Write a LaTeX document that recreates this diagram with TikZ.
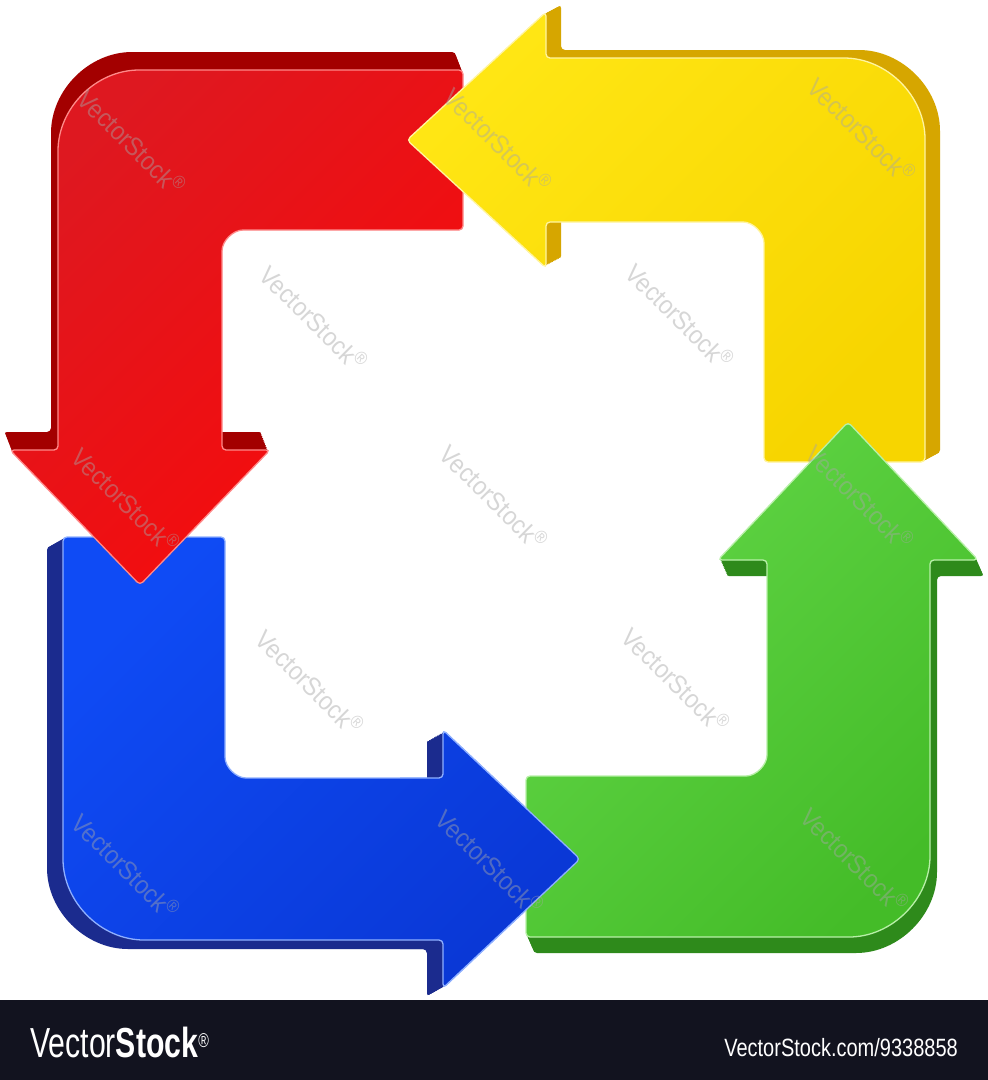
\documentclass[tikz,border=0pt]{standalone}
\usepackage{fontspec}
\setmainfont{Liberation Sans}
\newfontfamily\wmfont{Liberation Sans}[FakeStretch=0.9]
\newfontfamily\barfont{Liberation Sans}[FakeStretch=0.72]
\newfontfamily\urlfont{Liberation Sans}[FakeStretch=0.8]

\definecolor{redT}{HTML}{DE1820}
\definecolor{redB}{HTML}{F80A0A}
\definecolor{redS}{HTML}{A30000}
\definecolor{redE}{HTML}{FF8A8A}
\definecolor{yelT}{HTML}{FFE614}
\definecolor{yelB}{HTML}{F7D500}
\definecolor{yelS}{HTML}{D6A600}
\definecolor{yelE}{HTML}{FFF4A0}
\definecolor{grnT}{HTML}{62D647}
\definecolor{grnB}{HTML}{44BC28}
\definecolor{grnS}{HTML}{2E8A1B}
\definecolor{grnE}{HTML}{B8F0A8}
\definecolor{bluT}{HTML}{0F4BF5}
\definecolor{bluB}{HTML}{0A38D6}
\definecolor{bluS}{HTML}{1B2B8E}
\definecolor{bluE}{HTML}{8FB0FF}
\definecolor{barC}{HTML}{12131F}

\newcommand\rshape{(300,70) -- (463,70) -- (463,230) -- (247,230) .. controls (233,230) and (222,241) .. (222,255) -- (222,450) -- (270,450) -- (140,585) -- (10,450) -- (58,450) -- (58,155) .. controls (58,108) and (96,70) .. (143,70) -- cycle}
\newcommand\yshape{(700,58) -- (840,58) .. controls (887,58) and (925,96) .. (925,143) -- (925,462) -- (764,462) -- (764,247) .. controls (764,233) and (753,222) .. (739,222) -- (546,222) -- (546,268) -- (407,140) -- (546,12) -- (546,58) -- cycle}
\newcommand\gshape{(640,776) -- (742,776) .. controls (756,776) and (767,765) .. (767,751) -- (767,560) -- (718,560) -- (848,422) -- (978,560) -- (930,560) -- (930,852) .. controls (930,899) and (892,937) .. (845,937) -- (526,937) -- (526,776) -- cycle}
\newcommand\bshape{(144,537) -- (225,537) -- (225,753) .. controls (225,767) and (236,778) .. (250,778) -- (443,778) -- (443,730) -- (580,859) -- (443,988) -- (443,940) -- (148,940) .. controls (101,940) and (63,902) .. (63,855) -- (63,537) -- cycle}

% #1 shape, #2 #3 extrusion offset, #4 side colour, #5 #6 face colours, #7 edge colour
\newcommand\mkarrow[7]{%
  \foreach \k in {10,9,...,1}{\fill[#4, rounded corners=4pt, shift={({#2*\k/10},{#3*\k/10})}] #1;}%
  \shade[rounded corners=4pt, top color=#5, bottom color=#6, shading angle=45] #1;
  \draw[rounded corners=4pt, #7, line width=1.3pt] #1;
}

\tikzset{
  wm/.style={font=\wmfont\fontsize{26}{26}\selectfont, text=black!35, text opacity=0.45, rotate=-45, inner sep=0pt},
}

\begin{document}
\begin{tikzpicture}[x=1pt,y=-1pt]
\fill[white] (0,0) rectangle (988,1080);
\useasboundingbox (0,0) rectangle (988,1080);

% arrows (cyclic overlap: blue is redrawn at its head at the end)
\mkarrow{\bshape}{-16}{9}{bluS}{bluT}{bluB}{bluE}
\mkarrow{\rshape}{-7}{-18}{redS}{redT}{redB}{redE}
\mkarrow{\yshape}{15}{-8}{yelS}{yelT}{yelB}{yelE}
\mkarrow{\gshape}{7}{16}{grnS}{grnT}{grnB}{grnE}
\begin{scope}
  \clip (400,700) rectangle (600,1000);
  \mkarrow{\bshape}{-16}{9}{bluS}{bluT}{bluB}{bluE}
\end{scope}

% watermarks
\node[wm] (w1) at (132,142) {VectorStock\textsuperscript{®}};
\node[wm] (w2) at (498,140) {VectorStock\textsuperscript{®}};
\node[wm] (w3) at (862,130) {VectorStock\textsuperscript{®}};
\node[wm] (w4) at (314,318) {VectorStock\textsuperscript{®}};
\node[wm] (w5) at (680,316) {VectorStock\textsuperscript{®}};
\node[wm] (w6) at (126,500) {VectorStock\textsuperscript{®}};
\node[wm] (w7) at (494,497) {VectorStock\textsuperscript{®}};
\node[wm] (w8) at (860,497) {VectorStock\textsuperscript{®}};
\node[wm] (w9) at (310,682) {VectorStock\textsuperscript{®}};
\node[wm] (w10) at (676,680) {VectorStock\textsuperscript{®}};
\node[wm] (w11) at (126,866) {VectorStock\textsuperscript{®}};
\node[wm] (w12) at (490,862) {VectorStock\textsuperscript{®}};
\node[wm] (w13) at (855,860) {VectorStock\textsuperscript{®}};

% bottom bar
\fill[barC] (0,1000) rectangle (988,1080);
\node[anchor=base west, inner sep=0pt, text=white, font=\barfont\fontsize{42}{42}\selectfont] (logo) at (30,1057) {Vector\textbf{Stock}\textsuperscript{\fontsize{20}{20}\selectfont ®}};
\node[anchor=base east, inner sep=0pt, text=white, font=\urlfont\fontsize{25}{25}\selectfont] (url) at (958,1056) {VectorStock.com/9338858};
\end{tikzpicture}
\end{document}
